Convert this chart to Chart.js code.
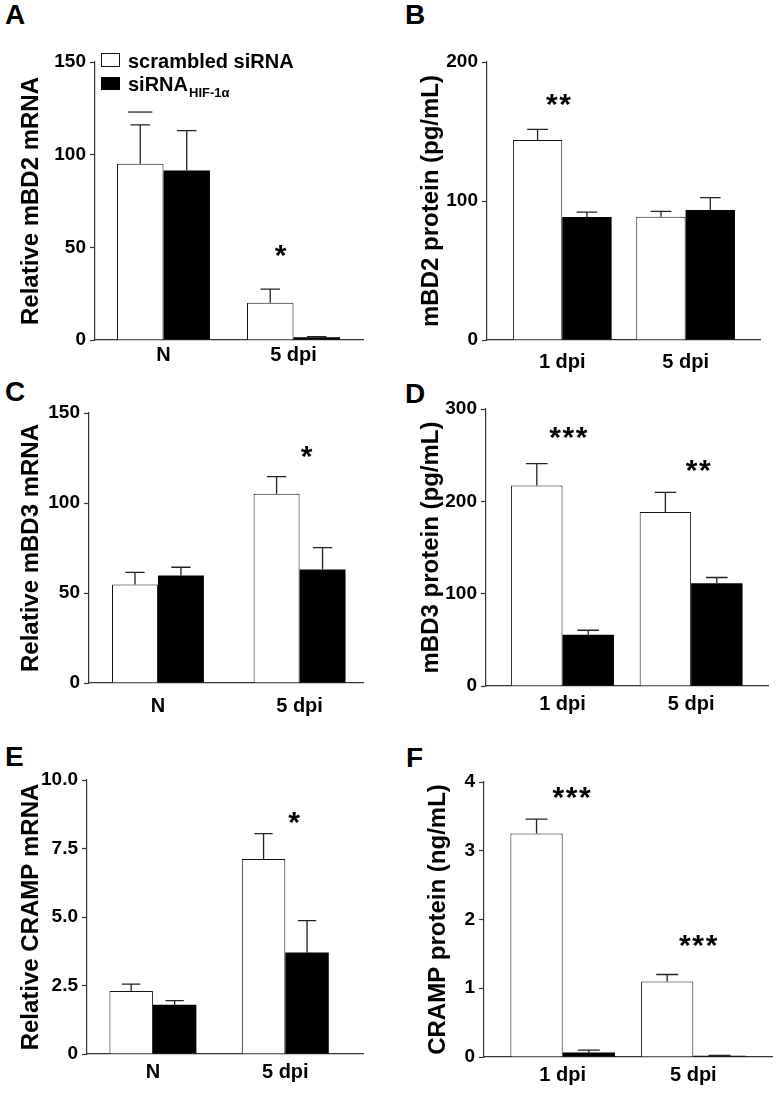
<!DOCTYPE html>
<html lang="en">
<head>
<meta charset="UTF-8">
<title>HIF-1α knockdown and antimicrobial peptides</title>
<script src="https://cdn.jsdelivr.net/npm/chart.js"></script>
<style>
    body { margin: 0; background: #fff; }
    #page { position: relative; width: 777px; height: 1095px; overflow: hidden; }
    #page canvas { position: absolute; left: 0; top: 0; }
    .letter { position: absolute; font: bold 28px "Liberation Sans", Arial, sans-serif; line-height: 28px; color: #000; }
</style>
</head>
<body>
<div id="page">
    <div class="letter" style="left:5px;top:1px">A</div>
    <div class="letter" style="left:405px;top:1px">B</div>
    <div class="letter" style="left:5px;top:378px">C</div>
    <div class="letter" style="left:405px;top:380px">D</div>
    <div class="letter" style="left:5px;top:743px">E</div>
    <div class="letter" style="left:406px;top:744px">F</div>
    <canvas id="chartA" width="777" height="1095"></canvas>
    <canvas id="chartB" width="777" height="1095"></canvas>
    <canvas id="chartC" width="777" height="1095"></canvas>
    <canvas id="chartD" width="777" height="1095"></canvas>
    <canvas id="chartE" width="777" height="1095"></canvas>
    <canvas id="chartF" width="777" height="1095"></canvas>
</div>
<script>
    // series
    var seriesNames = ['scrambled siRNA', 'siRNA'];
    var seriesSub = ['', 'HIF-1α'];

    // A - mBD2 mRNA
    var labelsA = ['N', '5 dpi'];
    var scrambledA = [95.1, 20.1];
    var scrambledErrA = [21, 7.4];
    var hifA = [91.4, 1.5];
    var hifErrA = [21.6, 0.3];
    var strayA = [123, null];
    var starsA = ['', '*'];
    var starYA = [null, 49.6];
    var ticksA = [0, 50, 100, 150];

    // B - mBD2 protein
    var labelsB = ['1 dpi', '5 dpi'];
    var scrambledB = [143.9, 88.7];
    var scrambledErrB = [7.7, 3.9];
    var hifB = [88.5, 93.5];
    var hifErrB = [3.5, 8.9];
    var starsB = ['**', ''];
    var starYB = [175, null];
    var ticksB = [0, 100, 200];

    // C - mBD3 mRNA
    var labelsC = ['N', '5 dpi'];
    var scrambledC = [54.7, 105.2];
    var scrambledErrC = [6.8, 9.5];
    var hifC = [59.7, 63];
    var hifErrC = [4.6, 12.2];
    var starsC = ['', '*'];
    var starYC = [null, 129.8];
    var ticksC = [0, 50, 100, 150];

    // D - mBD3 protein
    var labelsD = ['1 dpi', '5 dpi'];
    var scrambledD = [217.2, 188.4];
    var scrambledErrD = [23.6, 21.3];
    var hifD = [55.6, 111.4];
    var hifErrD = [4.8, 6.1];
    var starsD = ['***', '**'];
    var starYD = [277.6, 241.9];
    var ticksD = [0, 100, 200, 300];

    // E - CRAMP mRNA
    var labelsE = ['N', '5 dpi'];
    var scrambledE = [2.30, 7.12];
    var scrambledErrE = [0.25, 0.92];
    var hifE = [1.80, 3.70];
    var hifErrE = [0.15, 1.17];
    var starsE = ['', '*'];
    var starYE = [null, 8.73];
    var ticksE = [0, 2.5, 5, 7.5, 10];

    // F - CRAMP protein
    var labelsF = ['1 dpi', '5 dpi'];
    var scrambledF = [3.25, 1.10];
    var scrambledErrF = [0.21, 0.10];
    var hifF = [0.067, 0.02];
    var hifErrF = [0.033, 0.005];
    var starsF = ['***', '***'];
    var starYF = [3.88, 1.73];
    var ticksF = [0, 1, 2, 3, 4];

    var FONT = '"Liberation Sans", Arial, sans-serif';
    var AXIS = '#333';
    Chart.defaults.font.family = FONT;
    Chart.defaults.font.weight = 'bold';
    Chart.defaults.color = '#000';

    var panels = [
        { id: 'chartA', labels: labelsA, s: scrambledA, se: scrambledErrA, h: hifA, he: hifErrA, stars: starsA, starY: starYA, ticks: ticksA,
          title: 'Relative mBD2 mRNA', left: 0, axisX: 95, yTop: 62, y0: 340, xEnd: 363, xMin: -0.527, xMax: 1.535, cat: 0.715,
          titlePad: 16.6, xPad: 3.7, starDx: [0, -0.1], legend: true, stray: strayA },
        { id: 'chartB', labels: labelsB, s: scrambledB, se: scrambledErrB, h: hifB, he: hifErrB, stars: starsB, starY: starYB, ticks: ticksB,
          title: 'mBD2 protein (pg/mL)', left: 390, axisX: 487, yTop: 62, y0: 340, xEnd: 760, xMin: -0.61, xMax: 1.603, cat: 0.8,
          titlePad: 27.3, xPad: 10.4, starDx: [-0.03, 0] },
        { id: 'chartC', labels: labelsC, s: scrambledC, se: scrambledErrC, h: hifC, he: hifErrC, stars: starsC, starY: starYC, ticks: ticksC,
          title: 'Relative mBD3 mRNA', left: 0, axisX: 89, yTop: 413, y0: 683, xEnd: 363, xMin: -0.487, xMax: 1.448, cat: 0.649,
          titlePad: 17.3, xPad: 11, starDx: [0, 0.05] },
        { id: 'chartD', labels: labelsD, s: scrambledD, se: scrambledErrD, h: hifD, he: hifErrD, stars: starsD, starY: starYD, ticks: ticksD,
          title: 'mBD3 protein (pg/mL)', left: 390, axisX: 486, yTop: 409, y0: 686, xEnd: 768, xMin: -0.595, xMax: 1.598, cat: 0.8,
          titlePad: 27.3, xPad: 6.1, starDx: [0.045, 0.056] },
        { id: 'chartE', labels: labelsE, s: scrambledE, se: scrambledErrE, h: hifE, he: hifErrE, stars: starsE, starY: starYE, ticks: ticksE,
          title: 'Relative CRAMP mRNA', left: 0, axisX: 87, yTop: 780, y0: 1054, xEnd: 363, xMin: -0.498, xMax: 1.587, cat: 0.657,
          titlePad: 17.3, xPad: 6.1, starDx: [0, 0.066], decimals: 1 },
        { id: 'chartF', labels: labelsF, s: scrambledF, se: scrambledErrF, h: hifF, he: hifErrF, stars: starsF, starY: starYF, ticks: ticksF,
          title: 'CRAMP protein (ng/mL)', left: 390, axisX: 484, yTop: 782, y0: 1057, xEnd: 772, xMin: -0.602, xMax: 1.602, cat: 0.8,
          titlePad: 34, xPad: 6.4, starDx: [0.068, 0.037] }
    ];

    function points(values) {
        return values.map(function(v, i){ return { x: i, y: v }; });
    }

    // error bars (upward only), stray cap and significance stars
    var extrasPlugin = {
        id: 'extras',
        afterDatasetsDraw: function(chart) {
            var p = chart.options.plugins.extras;
            var ctx = chart.ctx;
            var yScale = chart.scales.y;
            var xScale = chart.scales.x;
            ctx.save();
            ctx.strokeStyle = '#222';
            ctx.lineWidth = 1.3;
            [p.se, p.he].forEach(function(errs, d){
                var meta = chart.getDatasetMeta(d);
                var vals = d === 0 ? p.s : p.h;
                meta.data.forEach(function(bar, i){
                    var b = bar.getProps(['x', 'y', 'width'], true);
                    var top = yScale.getPixelForValue(vals[i] + errs[i]);
                    var half = b.width * 0.21;
                    ctx.beginPath();
                    ctx.moveTo(b.x, b.y);
                    ctx.lineTo(b.x, top);
                    ctx.moveTo(b.x - half, top);
                    ctx.lineTo(b.x + half, top);
                    ctx.stroke();
                });
            });
            if (p.stray) {
                var meta0 = chart.getDatasetMeta(0);
                p.stray.forEach(function(v, i){
                    if (v === null) return;
                    var b = meta0.data[i].getProps(['x', 'width'], true);
                    var yy = yScale.getPixelForValue(v);
                    ctx.beginPath();
                    ctx.moveTo(b.x - b.width * 0.26, yy);
                    ctx.lineTo(b.x + b.width * 0.26, yy);
                    ctx.stroke();
                });
            }
            ctx.fillStyle = '#000';
            ctx.font = 'bold 30px ' + FONT;
            ctx.textAlign = 'center';
            ctx.textBaseline = 'alphabetic';
            p.stars.forEach(function(txt, i){
                if (!txt) return;
                var cx = xScale.getPixelForValue(i + p.starDx[i]);
                var cy = yScale.getPixelForValue(p.starY[i]) + 17;
                var gap = 13.3;
                for (var k = 0; k < txt.length; k++) {
                    ctx.fillText('*', cx - (txt.length - 1) * gap / 2 + k * gap, cy);
                }
            });
            if (p.legend) {
                ctx.lineWidth = 1;
                ctx.strokeStyle = '#111';
                ctx.fillStyle = '#fff';
                ctx.fillRect(101.5, 53.5, 18, 13);
                ctx.strokeRect(101.5, 53.5, 18, 13);
                ctx.fillStyle = '#000';
                ctx.fillRect(101, 77, 19, 13);
                ctx.textAlign = 'left';
                ctx.font = 'bold 20px ' + FONT;
                ctx.fillText(seriesNames[0], 128, 67.5);
                ctx.fillText(seriesNames[1], 128, 90.7);
                var w = ctx.measureText(seriesNames[1]).width;
                ctx.font = 'bold 13px ' + FONT;
                ctx.fillText(seriesSub[1], 128 + w + 1, 96.5);
            }
            ctx.restore();
        }
    };

    panels.forEach(function(p){
        new Chart(document.getElementById(p.id), {
            type: 'bar',
            data: {
                datasets: [
                    {
                        label: seriesNames[0],
                        data: points(p.s),
                        backgroundColor: '#fff',
                        borderColor: '#111',
                        borderWidth: 1
                    },
                    {
                        label: seriesNames[1] + ' ' + seriesSub[1],
                        data: points(p.h),
                        backgroundColor: '#000',
                        borderColor: '#000',
                        borderWidth: 0
                    }
                ]
            },
            options: {
                responsive: false,
                animation: false,
                devicePixelRatio: 1,
                barPercentage: 1,
                categoryPercentage: p.cat,
                layout: {
                    padding: { left: p.left, top: p.yTop, right: 777 - p.xEnd, bottom: 1095 - p.y0 - 40 }
                },
                scales: {
                    x: {
                        type: 'linear',
                        offset: false,
                        bounds: 'data',
                        min: p.xMin,
                        max: p.xMax,
                        afterBuildTicks: function(scale){
                            scale.ticks = p.labels.map(function(l, i){ return { value: i }; });
                        },
                        afterFit: function(scale){ scale.height = 40; },
                        grid: { display: false, drawTicks: false, offset: false },
                        border: { display: true, color: AXIS, width: 1.2 },
                        ticks: {
                            padding: p.xPad,
                            font: { size: 20, weight: 'bold' },
                            color: '#000',
                            maxRotation: 0,
                            autoSkip: false,
                            callback: function(v){ return p.labels[v]; }
                        }
                    },
                    y: {
                        min: 0,
                        max: p.ticks[p.ticks.length - 1],
                        afterBuildTicks: function(scale){
                            scale.ticks = p.ticks.map(function(v){ return { value: v }; });
                        },
                        afterFit: function(scale){ scale.width = p.axisX - p.left; },
                        grid: { drawOnChartArea: false, drawTicks: true, tickLength: 5, color: AXIS, tickWidth: 1.2 },
                        border: { display: true, color: AXIS, width: 1.2 },
                        ticks: {
                            padding: 4,
                            font: { size: 19, weight: 'bold' },
                            color: '#000',
                            callback: function(v){
                                if (v === 0) return '0';
                                return p.decimals ? v.toFixed(p.decimals) : String(v);
                            }
                        },
                        title: {
                            display: true,
                            text: p.title,
                            color: '#000',
                            font: { size: 24, weight: 'bold' },
                            padding: { top: p.titlePad, bottom: 0 }
                        }
                    }
                },
                plugins: {
                    legend: { display: false },
                    tooltip: { enabled: false },
                    extras: p
                }
            },
            plugins: [extrasPlugin]
        });
    });
</script>
</body>
</html>
